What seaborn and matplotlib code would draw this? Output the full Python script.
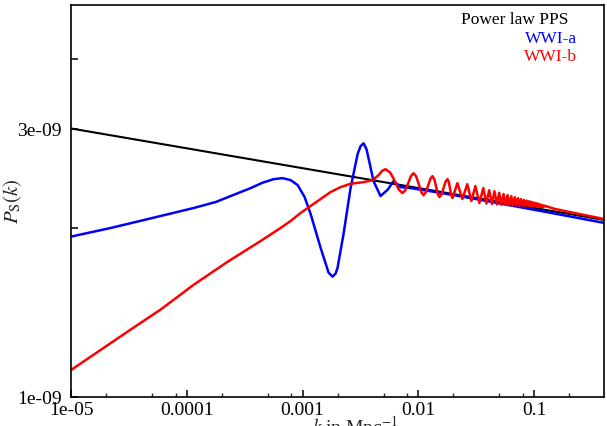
import numpy as np
import pandas as pd
import matplotlib
matplotlib.use("Agg")
import matplotlib.pyplot as plt
from matplotlib.ticker import FixedLocator, FixedFormatter, NullFormatter, NullLocator
import seaborn as sns

sns.set_style("ticks")
plt.rcParams["font.family"] = ["Liberation Serif", "DejaVu Serif"]
plt.rcParams["mathtext.fontset"] = "stix"

# Primordial power spectra, P_S(k) given in units of 1e-9
UNIT = 1e-9

k_power = [1.0e-5, 0.4]
ps_power = [3.012, 2.069]

k_wwi_a = [
    1.0e-5, 2.21e-5, 5.97e-5, 1.149e-4, 1.778e-4, 2.645e-4, 3.562e-4, 4.52e-4,
    5.623e-4, 6.72e-4, 7.88e-4, 9.06e-4, 1.040e-3, 1.172e-3, 1.430e-3,
    1.675e-3, 1.814e-3, 1.926e-3, 2.003e-3, 2.256e-3, 2.594e-3, 2.980e-3,
    3.162e-3, 3.357e-3, 3.562e-3, 3.707e-3, 4.094e-3, 4.703e-3, 5.405e-3,
    6.088e-3, 6.995e-3, 8.53e-3, 1.5e-2, 3.0e-2, 6.0e-2, 0.1, 0.2, 0.4,
]
ps_wwi_a = [
    1.932, 2.002, 2.103, 2.173, 2.227, 2.301, 2.358, 2.411,
    2.446, 2.456, 2.436, 2.387, 2.273, 2.120, 1.845,
    1.666, 1.639, 1.660, 1.701, 1.954, 2.358, 2.709,
    2.800, 2.834, 2.765, 2.665, 2.426, 2.282, 2.340,
    2.426, 2.367, 2.358, 2.315, 2.258, 2.199, 2.157, 2.100, 2.044,
]

k_wwi_b = [
    1.0e-5, 3.10e-5, 5.97e-5, 1.149e-4, 2.257e-4, 4.35e-4, 6.46e-4, 7.88e-4,
    9.61e-4, 1.172e-3, 1.43e-3, 1.743e-3, 2.126e-3, 2.594e-3, 3.357e-3,
    4.013e-3, 4.52e-3, 4.85e-3, 5.19e-3, 5.71e-3, 6.235e-3, 6.76e-3,
    7.28e-3, 7.725e-3, 8.17e-3, 8.615e-3, 9.06e-3, 9.555e-3, 1.005e-2,
    1.0545e-2, 1.104e-2, 1.158e-2, 1.2125e-2, 1.267e-2, 1.321e-2, 1.37e-2,
    1.419e-2, 1.468e-2, 1.517e-2, 1.583e-2, 1.6485e-2, 1.714e-2, 1.78e-2,
    1.826e-2, 1.872e-2, 1.918e-2, 1.964e-2, 2.067e-2, 2.17e-2, 2.28e-2,
    2.395e-2, 2.64e-2, 2.863e-2, 3.10e-2,
    3.357e-2, 3.63e-2, 3.86e-2, 4.08e-2, 4.31e-2, 4.53e-2, 4.76e-2,
    4.98e-2, 5.20e-2, 5.43e-2, 5.66e-2, 5.88e-2, 6.10e-2, 6.33e-2,
    6.56e-2, 6.78e-2, 7.00e-2, 7.23e-2, 7.46e-2, 7.68e-2, 7.90e-2,
    8.13e-2, 8.36e-2, 8.58e-2, 8.80e-2, 9.03e-2, 9.26e-2, 9.48e-2,
    9.70e-2, 9.93e-2, 0.1016, 0.1038, 0.1060, 0.1083, 0.1106, 0.1128,
    0.1150, 0.1173, 0.1196, 0.1218, 0.15, 0.2, 0.3, 0.4,
]
ps_wwi_b = [
    1.117, 1.309, 1.433, 1.586, 1.743, 1.898, 2.002, 2.060,
    2.129, 2.191, 2.254, 2.320, 2.367, 2.400, 2.416,
    2.436, 2.486, 2.530, 2.548, 2.513, 2.429, 2.345,
    2.310, 2.339, 2.408, 2.477, 2.506, 2.474, 2.398,
    2.322, 2.290, 2.317, 2.383, 2.449, 2.476, 2.446,
    2.375, 2.303, 2.273, 2.298, 2.360, 2.421, 2.446,
    2.419, 2.355, 2.291, 2.264, 2.335, 2.406, 2.330,
    2.254, 2.396, 2.236, 2.377,
    2.218, 2.358, 2.213, 2.337, 2.209, 2.327, 2.205,
    2.313, 2.201, 2.301, 2.200, 2.290, 2.198, 2.281,
    2.196, 2.271, 2.194, 2.262, 2.194, 2.254, 2.194,
    2.246, 2.193, 2.240, 2.191, 2.234, 2.189, 2.228,
    2.187, 2.222, 2.186, 2.217, 2.184, 2.211, 2.182, 2.205,
    2.180, 2.199, 2.178, 2.194, 2.165, 2.138, 2.102, 2.077,
]

x_major = [1e-5, 1e-4, 1e-3, 1e-2, 1e-1]
x_major_labels = ["1e-05", "0.0001", "0.001", "0.01", "0.1"]
x_minor = [m * d for d in [1e-5, 1e-4, 1e-3, 1e-2, 1e-1] for m in (2, 5, 8)]
y_ticks = [1e-9, 2e-9, 3e-9, 4e-9]
y_tick_labels = ["1e-09", "", "3e-09", ""]

series = [
    ("Power law PPS", k_power, ps_power, "black", 1.5),
    ("WWI-a", k_wwi_a, ps_wwi_a, "#0000ff", 1.8),
    ("WWI-b", k_wwi_b, ps_wwi_b, "#ff0000", 1.8),
]

fig = plt.figure(figsize=(6.07, 4.26), dpi=100)
ax = fig.add_axes([71 / 607, 29 / 426, 533 / 607, 392 / 426])

for name, k, ps, color, lw in series:
    df = pd.DataFrame({"k": k, "P": np.asarray(ps) * UNIT})
    sns.lineplot(data=df, x="k", y="P", ax=ax, color=color, linewidth=lw,
                 estimator=None, sort=False)

ax.set_xscale("log")
ax.set_yscale("log")
ax.set_xlim(1e-5, 0.4)
ax.set_ylim(1e-9, 5e-9)

ax.xaxis.set_major_locator(FixedLocator(x_major))
ax.xaxis.set_major_formatter(FixedFormatter(x_major_labels))
ax.xaxis.set_minor_locator(FixedLocator(x_minor))
ax.xaxis.set_minor_formatter(NullFormatter())
ax.yaxis.set_major_locator(FixedLocator(y_ticks))
ax.yaxis.set_major_formatter(FixedFormatter(y_tick_labels))
ax.yaxis.set_minor_locator(NullLocator())

ax.tick_params(axis="both", which="major", direction="in", length=5, width=1.1,
               labelsize=14, colors="black", top=False, right=False)
ax.tick_params(axis="both", which="minor", direction="in", length=3, width=1.0,
               top=False, right=False)
ax.tick_params(axis="x", which="major", pad=3.5)
ax.tick_params(axis="y", which="major", pad=6.5)

for s in ax.spines.values():
    s.set_linewidth(1.2)
    s.set_color("black")

ax.set_xlabel(r"$k$ in Mpc$^{-1}$", fontsize=14)
ax.xaxis.set_label_coords(0.533, -0.043)
ax.xaxis.label.set_va("top")
ax.set_ylabel(r"$P_{\rm S}(k)$", fontsize=15)
ax.yaxis.set_label_coords(-0.088, 0.5)

legend_pos = [(0.9325, 0.962), (0.949, 0.913), (0.949, 0.867)]
for (name, _, _, color, _), (tx, ty) in zip(series, legend_pos):
    ax.text(tx, ty, name, transform=ax.transAxes, ha="right", va="center",
            fontsize=12.5, color=color)

fig.savefig("out.png", dpi=100)
